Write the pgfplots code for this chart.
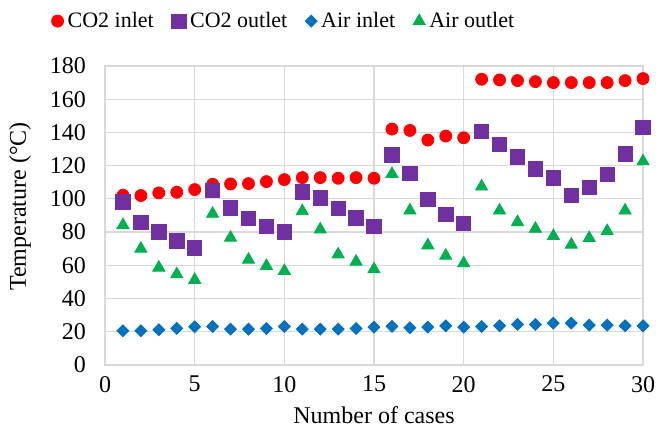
\documentclass[border=0pt]{standalone}
\usepackage{fontspec}
\setmainfont{Liberation Serif}
\usepackage{pgfplots}
\pgfplotsset{compat=1.18}
\definecolor{cred}{HTML}{FF0000}
\definecolor{cpurple}{HTML}{7030A0}
\definecolor{cblue}{HTML}{0070C0}
\definecolor{cgreen}{HTML}{00B050}
\definecolor{cgrid}{HTML}{D9D9D9}
\newcommand{\fs}{\fontsize{12}{14}\selectfont}
\newcommand{\fl}{\fontsize{11}{13}\selectfont}
\begin{document}
\begin{tikzpicture}
\begin{axis}[
  scale only axis,
  width=269pt, height=149.5pt,
  xmin=0, xmax=30, ymin=0, ymax=180,
  xtick={0,5,...,30}, ytick={0,20,...,180},
  major tick length=0pt,
  grid=major,
  grid style={cgrid, line width=0.6pt},
  axis line style={cgrid, line width=0.6pt},
  /pgf/number format/assume math mode=true,
  tick label style={font=\fs},
  yticklabel style={xshift=-6pt},
  xticklabel style={yshift=-2pt},
  xlabel={Number of cases},
  ylabel={Temperature (°C)},
  label style={font=\fs},
  xlabel style={at={(axis description cs:0.5,-0.168)}, anchor=center},
  ylabel style={at={(axis description cs:-0.158,0.53)}, anchor=center},
  legend style={at={(axis description cs:-0.1,1.15)}, anchor=west, draw=none, fill=none,
    font=\fl, legend columns=4, inner sep=0pt,
    /tikz/every even column/.append style={column sep=7pt},
    /tikz/every odd column/.append style={column sep=0pt}},
  legend image code/.code={\draw[#1] plot coordinates {(0.1cm,0cm)};},
  legend cell align=left,
]
\coordinate (bl) at (rel axis cs:-0.1952,-0.2475);
\coordinate (tr) at (rel axis cs:1.0297,1.2207);
\addplot[only marks, mark=*, mark size=3pt, color=cred, mark options={fill=cred, draw=cred}] coordinates {
(1,102.2)(2,102)(3,103.6)(4,104)(5,105.6)(6,108.8)(7,109)(8,109.2)(9,110.4)(10,111.6)
(11,112.8)(12,112.8)(13,112.4)(14,112.8)(15,112.4)(16,142)(17,141.2)(18,135.4)(19,137.8)(20,136.8)
(21,172)(22,171.6)(23,171.2)(24,170.6)(25,170)(26,170)(27,170)(28,170)(29,171.2)(30,172.4)};
\addlegendentry{CO2 inlet}
\addplot[only marks, mark=square*, mark size=3.6pt, color=cpurple, mark options={fill=cpurple, draw=cpurple}] coordinates {
(1,98.2)(2,86)(3,80.2)(4,74.6)(5,70.6)(6,105.2)(7,94.6)(8,88.2)(9,83.4)(10,80)
(11,104.2)(12,100.6)(13,94.4)(14,88.6)(15,83.6)(16,126.4)(17,115.4)(18,99.6)(19,90.8)(20,85.2)
(21,140.6)(22,132.8)(23,125.2)(24,118)(25,112.6)(26,102.2)(27,107)(28,114.8)(29,127)(30,143.2)};
\addlegendentry{CO2 outlet}
\addplot[only marks, mark=square*, mark size=2.1pt, color=cblue, mark options={fill=cblue, draw=cblue, rotate=45}] coordinates {
(1,20.6)(2,20.6)(3,21.2)(4,22)(5,23)(6,23.2)(7,21.6)(8,21.6)(9,22)(10,23.2)
(11,21.6)(12,21.6)(13,21.6)(14,22)(15,22.8)(16,23.2)(17,22.4)(18,22.8)(19,23.6)(20,22.8)
(21,23.2)(22,23.6)(23,24.4)(24,24.4)(25,25.2)(26,25.2)(27,24)(28,24)(29,23.6)(30,23.6)};
\addlegendentry{Air inlet}
\addplot[only marks, mark=triangle*, mark size=3.5pt, color=cgreen, mark options={fill=cgreen, draw=cgreen}] coordinates {
(1,84.2)(2,70)(3,58.6)(4,54.6)(5,51.2)(6,91)(7,76.6)(8,63.4)(9,59.6)(10,56.6)
(11,92.6)(12,81.6)(13,66.6)(14,62.2)(15,57.6)(16,115)(17,93)(18,72)(19,65.8)(20,61.2)
(21,107.4)(22,93)(23,86)(24,82)(25,77.6)(26,72.4)(27,76.4)(28,80.6)(29,93)(30,122.6)};
\addlegendentry{Air outlet}
\end{axis}
\pgfresetboundingbox
\path (bl) rectangle (tr);
\end{tikzpicture}
\end{document}
